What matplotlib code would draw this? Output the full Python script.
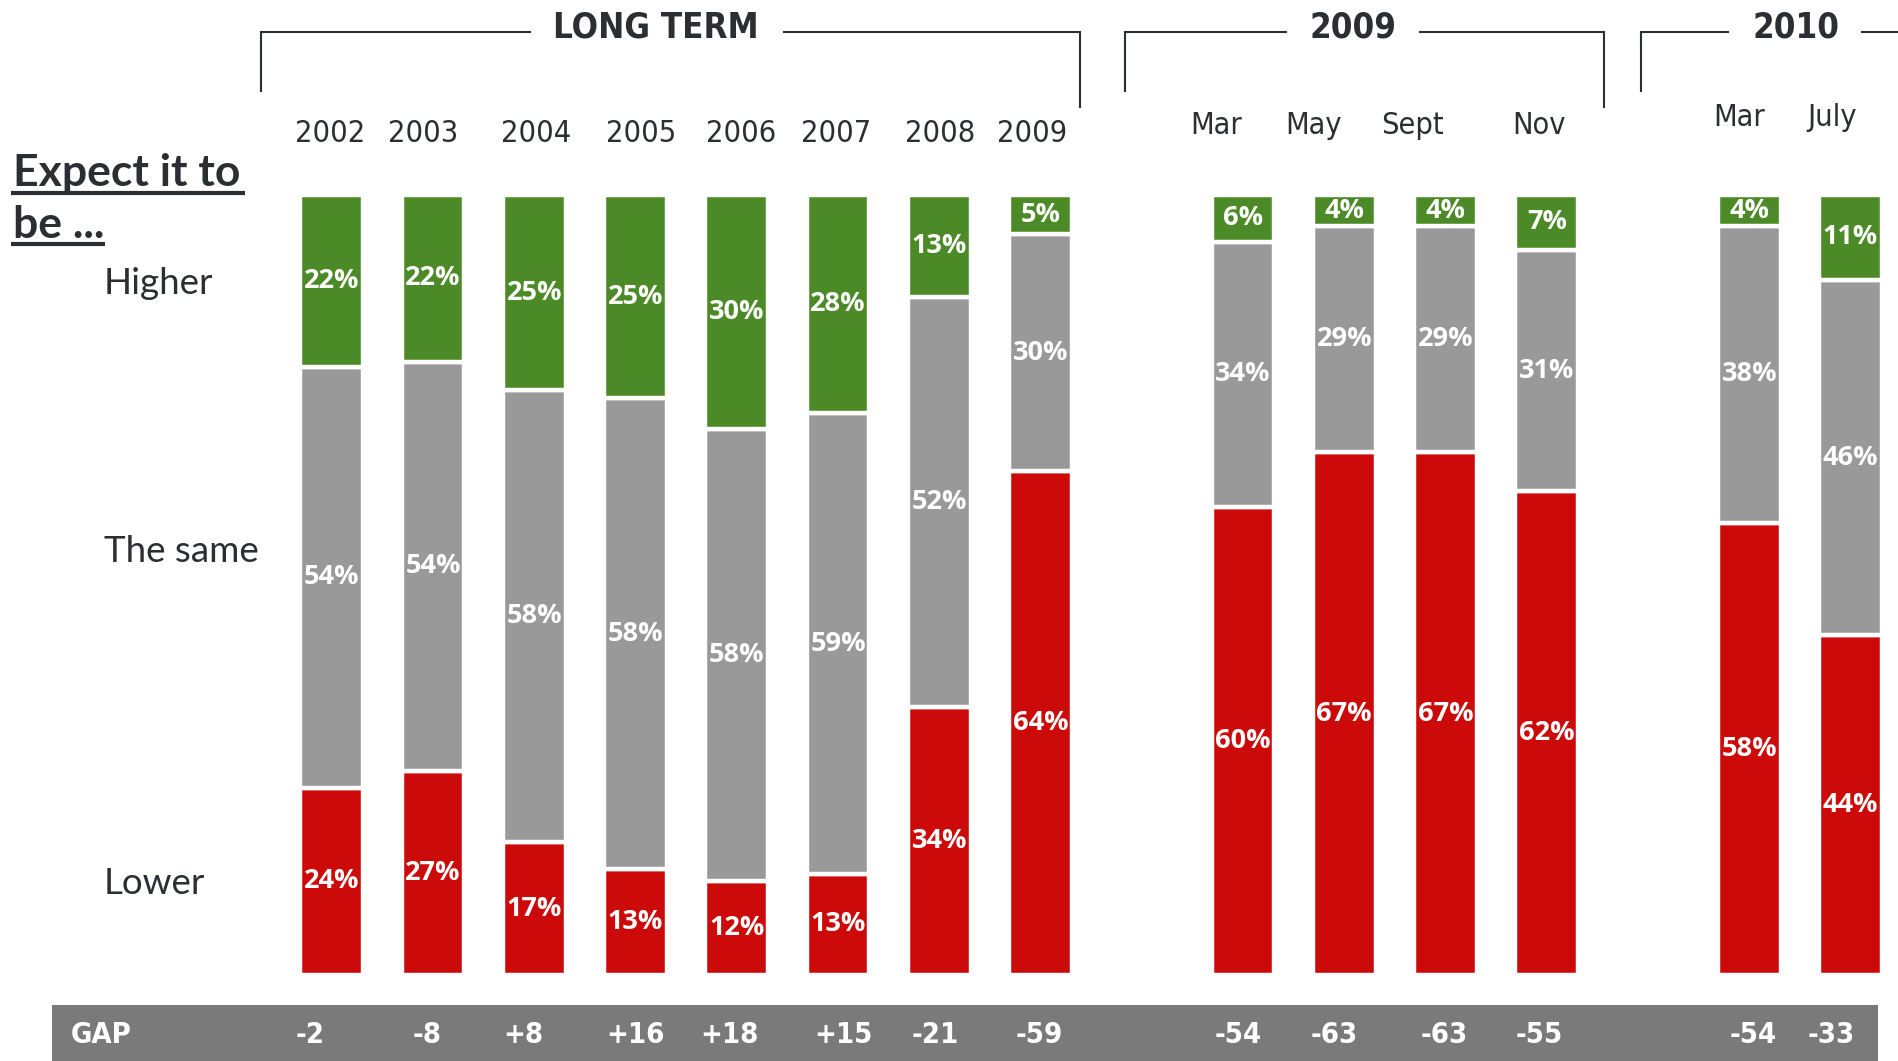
import matplotlib.pyplot as plt
from matplotlib.patches import Rectangle
from matplotlib.transforms import blended_transform_factory, offset_copy

# data
categories = ['2002', '2003', '2004', '2005', '2006', '2007', '2008', '2009',
              'Mar', 'May', 'Sept', 'Nov', 'Mar', 'July']
group_sizes = [8, 4, 2]
group_titles = ['LONG TERM', '2009', '2010']
higher = [22, 22, 25, 25, 30, 28, 13, 5, 6, 4, 4, 7, 4, 11]
same = [54, 54, 58, 58, 58, 59, 52, 30, 34, 29, 29, 31, 38, 46]
lower = [24, 27, 17, 13, 12, 13, 34, 64, 60, 67, 67, 62, 58, 44]
gap = [-2, -8, 8, 16, 18, 15, -21, -59, -54, -63, -63, -55, -54, -33]
row_labels = ['Higher', 'The same', 'Lower']

# small horizontal nudges (px) of the labels, as placed in the original slide
cat_nudge = [-2, -10, 2, 6, 4, -2, 1, -8, -27, -31, -33, -8, -10, -18]
gap_nudge = [-22, -6, -11, 0, -7, 5, -4, -1, -5, -10, -1, -8, 4, -19]

GREEN = '#4b8a26'
GREY = '#999999'
RED = '#cc0a0a'
DARK = '#2b2e33'
BAND = '#7a7a7a'

COND = dict(family=['DejaVu Sans'], stretch='condensed')
PCT = ['Open Sans', 'DejaVu Sans']
SANS = ['Lato', 'DejaVu Sans']

W, H = 1899, 1061
STEP = 101.25

# x slots: one empty slot between groups
xpos = []
slot = 0
for g, n in enumerate(group_sizes):
    for i in range(n):
        xpos.append(slot)
        slot += 1
    slot += 1

fig = plt.figure(figsize=(W / 100, H / 100), dpi=100)
ax = fig.add_axes([(331.8 - 0.5 * STEP) / W, 1 - 975 / H, 15.95 * STEP / W, 780 / H])
ax.set_xlim(-0.5, 15.45)
ax.set_ylim(0, 1)
ax.axis('off')

width = 0.62
for i, x in enumerate(xpos):
    tot = higher[i] + same[i] + lower[i]
    segs = [(lower[i], RED), (same[i], GREY), (higher[i], GREEN)]
    bottom = 0
    for val, col in segs:
        h = val / tot
        ax.bar(x, h, width, bottom=bottom, color=col, edgecolor='white', linewidth=3.2)
        ax.text(x, bottom + h / 2, f'{val}%', ha='center', va='center', color='white',
                fontsize=19.5, fontweight='bold', family=PCT)
        bottom += h

# overlay in pixel coordinates for header, side labels and gap band
ov = fig.add_axes([0, 0, 1, 1])
ov.set_xlim(0, W)
ov.set_ylim(H, 0)
ov.axis('off')
ov.patch.set_alpha(0)

tr = blended_transform_factory(ax.transData, ov.transData)


def nudged(dx):
    return offset_copy(tr, fig=fig, x=dx * 72 / 100, y=0, units='points')


# category labels above the bars
label_y = [133, 125, 118]
k = 0
for g, n in enumerate(group_sizes):
    for i in range(n):
        y = label_y[g] + (1 if categories[k] == '2009' else 0)
        ov.text(xpos[k], y, categories[k], transform=nudged(cat_nudge[k]), ha='center',
                va='center', fontsize=22, color=DARK, **COND)
        k += 1

# brackets: left, line end before title, title centre, line start after title, right, right drop
brackets = [
    (261, 530, 656, 784, 1080, 107),
    (1125, 1286, 1353, 1420, 1604, 107),
    (1641, 1728, 1796, 1862, W + 5, None),
]
top = 32
for (l, a, c, b, r, drop), title in zip(brackets, group_titles):
    ov.plot([l, l, a], [91, top, top], color=DARK, lw=1.5, solid_joinstyle='miter')
    if drop is not None:
        ov.plot([b, r, r], [top, top, drop], color=DARK, lw=1.5, solid_joinstyle='miter')
    else:
        ov.plot([b, r], [top, top], color=DARK, lw=1.5)
    ov.text(c, top - 5, title, ha='center', va='center', fontsize=25,
            fontweight='bold', color=DARK, **COND)

# side title
ov.text(13, 186, 'Expect it to', ha='left', va='baseline', fontsize=32,
        fontweight='bold', color=DARK, family=SANS)
ov.text(13, 238, 'be ...', ha='left', va='baseline', fontsize=32,
        fontweight='bold', color=DARK, family=SANS)
ov.plot([11, 245], [193, 193], color=DARK, lw=3, solid_capstyle='butt')
ov.plot([11, 105], [244, 244], color=DARK, lw=3, solid_capstyle='butt')

for lab, y in zip(row_labels, [283, 552, 883]):
    ov.text(104, y, lab, ha='left', va='center', fontsize=26.5, color=DARK, family=SANS)

# gap band
ov.add_patch(Rectangle((52, 1005), 1826, 60, color=BAND, lw=0))
ov.text(71, 1035, 'GAP', ha='left', va='center', fontsize=21, color='white',
        fontweight='bold', **COND)
for i, (x, g) in enumerate(zip(xpos, gap)):
    ov.text(x, 1035, f'{g:+d}', transform=nudged(gap_nudge[i]), ha='center', va='center',
            fontsize=21, color='white', fontweight='bold', **COND)

fig.savefig('out.png', dpi=100)
